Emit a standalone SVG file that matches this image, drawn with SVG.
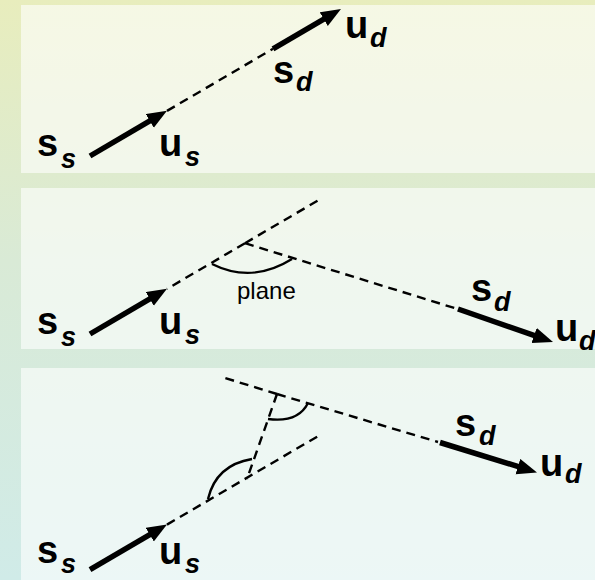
<svg xmlns="http://www.w3.org/2000/svg" width="595" height="580" viewBox="0 0 595 580">
<defs>
<linearGradient id="bg" x1="0" y1="0" x2="0" y2="1">
<stop offset="0" stop-color="#e8edbd"/>
<stop offset="0.45" stop-color="#d9ead6"/>
<stop offset="1" stop-color="#d0ebe8"/>
</linearGradient>
<marker id="ah" markerUnits="userSpaceOnUse" markerWidth="22" markerHeight="18" viewBox="0 0 22 18" refX="9" refY="8" orient="auto">
<path d="M0,0 L20,8 L0,16 Z" fill="#000"/>
</marker>
<style>
.panel{fill:#ffffff;fill-opacity:0.6}
.thick{stroke:#000;stroke-width:5.5;fill:none;marker-end:url(#ah)}
.dash{stroke:#000;stroke-width:2.4;fill:none;stroke-dasharray:9 6}
.arc{stroke:#000;stroke-width:2.4;fill:none}
.v{font-family:"Liberation Sans",Arial,sans-serif;font-weight:bold;font-size:38px;fill:#000}
.sub{font-size:27px;font-style:italic}
.lbl{font-family:"Liberation Sans",Arial,sans-serif;font-size:24px;fill:#000}
</style>
</defs>
<rect x="0" y="0" width="595" height="580" fill="url(#bg)"/>
<rect class="panel" x="21" y="5" width="574" height="168"/>
<rect class="panel" x="21" y="188" width="574" height="161"/>
<rect class="panel" x="21" y="368" width="574" height="212"/>

<g id="connectors">
<!-- panel 1 -->
<line class="thick" x1="90" y1="156" x2="157.5" y2="116.4"/>
<line class="dash" x1="167" y1="110.9" x2="273" y2="48.8"/>
<line class="thick" x1="273" y1="48.8" x2="331.5" y2="14.55"/>
<!-- panel 2 -->
<line class="thick" x1="90" y1="334" x2="157.5" y2="294.4"/>
<line class="dash" x1="245" y1="243.2" x2="167" y2="288.9"/>
<line class="dash" x1="245" y1="243.2" x2="320" y2="199.3"/>
<line class="dash" x1="245" y1="243.2" x2="456" y2="308.5"/>
<line class="thick" x1="458" y1="309" x2="542.6" y2="338.4"/>
<path class="arc" d="M212,264 Q252,284 292,259"/>
<!-- panel 3 -->
<line class="thick" x1="90" y1="569.7" x2="157.5" y2="530.1"/>
<line class="dash" x1="167" y1="524.6" x2="320" y2="435"/>
<line class="dash" x1="277" y1="394" x2="225" y2="378"/>
<line class="dash" x1="277" y1="394" x2="438" y2="442"/>
<line class="dash" x1="277" y1="394" x2="247" y2="479"/>
<line class="thick" x1="440" y1="442.5" x2="526.5" y2="469.2"/>
<path class="arc" d="M268,419 Q298,423 308,403"/>
<path class="arc" d="M208,499 Q216,465 252,459"/>
</g>

<g id="p1-ss"><text class="v" x="37" y="156">s<tspan class="sub" x="61" y="168">s</tspan></text></g>
<g id="p1-us"><text class="v" x="159" y="156">u<tspan class="sub" x="185" y="166">s</tspan></text></g>
<g id="p1-sd"><text class="v" x="273" y="83">s<tspan class="sub" x="296" y="91">d</tspan></text></g>
<g id="p1-ud"><text class="v" x="345" y="38">u<tspan class="sub" x="370" y="47">d</tspan></text></g>

<g id="p2-ss"><text class="v" x="37" y="334">s<tspan class="sub" x="61" y="346">s</tspan></text></g>
<g id="p2-us"><text class="v" x="159" y="334">u<tspan class="sub" x="185" y="344">s</tspan></text></g>
<g id="p2-plane"><text class="lbl" x="237" y="299">plane</text></g>
<g id="p2-sd"><text class="v" x="471" y="301">s<tspan class="sub" x="494" y="311">d</tspan></text></g>
<g id="p2-ud"><text class="v" x="555" y="341">u<tspan class="sub" x="579" y="350">d</tspan></text></g>

<g id="p3-ss"><text class="v" x="37" y="563">s<tspan class="sub" x="61" y="573">s</tspan></text></g>
<g id="p3-us"><text class="v" x="159" y="564">u<tspan class="sub" x="185" y="573">s</tspan></text></g>
<g id="p3-sd"><text class="v" x="455" y="436">s<tspan class="sub" x="479" y="445">d</tspan></text></g>
<g id="p3-ud"><text class="v" x="540" y="476">u<tspan class="sub" x="565" y="483">d</tspan></text></g>
</svg>
